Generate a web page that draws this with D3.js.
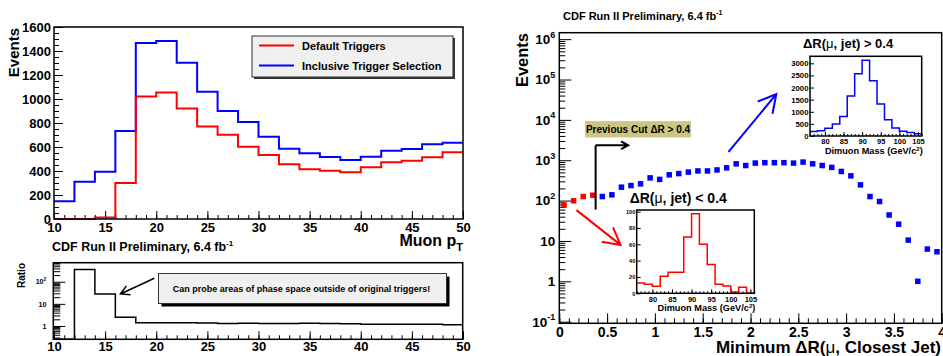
<!DOCTYPE html>
<html>
<head>
<meta charset="utf-8">
<script src="https://cdn.jsdelivr.net/npm/d3@7"></script>
<style>
  body { margin: 0; background: #fff; }
  svg text { font-family: "Liberation Sans", Arial, Helvetica, sans-serif; font-weight: bold; fill: #000; }
</style>
</head>
<body>
<svg id="chart" width="943" height="356"></svg>
<script>
"use strict";

// -------------------- data: muon pT (left) --------------------
const ptEdges = [10, 12, 14, 16, 18, 20, 22, 24, 26, 28, 30, 32, 34, 36, 38, 40, 42, 44, 46, 48, 50];
const defaultTrig = [0, 1, 12, 300, 1020, 1055, 920, 770, 703, 603, 533, 456, 414, 403, 389, 431, 472, 486, 514, 556];
const inclusiveTrig = [148, 311, 394, 733, 1467, 1483, 1303, 1061, 900, 808, 686, 586, 547, 517, 492, 519, 569, 583, 622, 636];
const ratioVals = [0, 360, 27.7, 2.47, 1.41, 1.40, 1.41, 1.38, 1.29, 1.33, 1.29, 1.28, 1.32, 1.28, 1.26, 1.20, 1.20, 1.20, 1.21, 1.14];
const ptTicks = [10, 15, 20, 25, 30, 35, 40, 45, 50];
const eventTicks = [0, 200, 400, 600, 800, 1000, 1200, 1400, 1600];
const ratioTicks = [1, 10, 100];

// -------------------- data: min dR (right) --------------------
const drRed = [0.05, 0.15, 0.25, 0.35];
const evRed = [78, 99, 126, 136];
const drBlue = [0.45, 0.55, 0.65, 0.75, 0.85, 0.95, 1.05, 1.15, 1.25, 1.35, 1.45, 1.55, 1.65, 1.75, 1.85, 1.95,
                2.05, 2.15, 2.25, 2.35, 2.45, 2.55, 2.65, 2.75, 2.85, 2.95, 3.05, 3.15, 3.25, 3.35, 3.45, 3.55,
                3.65, 3.75, 3.85, 3.95];
const evBlue = [126, 139, 215, 236, 260, 365, 335, 435, 467, 508, 543, 543, 575, 648, 815, 740,
                850, 870, 870, 870, 850, 900, 815, 740, 665, 527, 411, 245, 126, 95, 44, 26,
                10.5, 1.0, 6.3, 5.4];
const drTicks = [0, 0.5, 1, 1.5, 2, 2.5, 3, 3.5, 4];
const drTickLabels = ["0", "0.5", "1", "1.5", "2", "2.5", "3", "3.5", "4"];

// -------------------- data: dimuon mass insets --------------------
const massEdges = [76, 78, 80, 82, 84, 86, 88, 90, 92, 94, 96, 98, 100, 102, 104, 106];
const massFar = [190, 220, 320, 495, 810, 1650, 2570, 3130, 2280, 1320, 670, 330, 200, 140, 95];
const massNear = [12.7, 11.1, 8.6, 20.9, 25.9, 25.9, 69, 97.3, 60, 35.3, 11.1, 9, 1.6, 7.4, 0];
const massTicks = [80, 85, 90, 95, 100, 105];
const massFarTicks = [0, 500, 1000, 1500, 2000, 2500, 3000];
const massNearTicks = [0, 20, 40, 60, 80, 100];

const svg = d3.select("#chart");
const fmtInt = d3.format("d");

function styleAxis(g, fs) {
    g.select(".domain").remove();
    g.attr("font-family", null).attr("font-size", fs);
    g.selectAll("line").attr("stroke", "#000").attr("stroke-width", 1);
    return g;
}

// step outline through d3.line, zero bins go to the floor of the scale
function stepPath(edges, vals, x, y) {
    const floor = y.range()[0];
    const pts = vals.map((v, i) => [edges[i], v]);
    pts.push([edges[edges.length - 1], vals[vals.length - 1]]);
    return d3.line()
        .x(d => x(d[0]))
        .y(d => d[1] > 0 || !y.base ? y(d[1]) : floor)
        .curve(d3.curveStepAfter)(pts);
}

function frame(x, y) {
    svg.append("rect")
        .attr("x", x.range()[0]).attr("y", y.range()[1])
        .attr("width", x.range()[1] - x.range()[0])
        .attr("height", y.range()[0] - y.range()[1])
        .attr("fill", "none").attr("stroke", "#000").attr("stroke-width", 1.5);
}

function arrow(x1, y1, x2, y2, len, color, width) {
    const a = Math.atan2(y1 - y2, x1 - x2), s = 0.5;
    const p = d3.path();
    p.moveTo(x1, y1); p.lineTo(x2, y2);
    p.moveTo(x2 + len * Math.cos(a + s), y2 + len * Math.sin(a + s));
    p.lineTo(x2, y2);
    p.lineTo(x2 + len * Math.cos(a - s), y2 + len * Math.sin(a - s));
    svg.append("path").attr("d", p.toString()).attr("fill", "none")
        .attr("stroke", color).attr("stroke-width", width);
}

function powLabel(sel, v, supSize) {
    const e = Math.round(Math.log10(v));
    if (e === 0) { sel.text("1"); return; }
    if (e === 1) { sel.text("10"); return; }
    sel.append("tspan").text("10");
    sel.append("tspan").attr("dy", -supSize * 0.7).attr("font-size", supSize).text(e);
}

/* ------------------ left top: muon pT ------------------ */
const xPt = d3.scaleLinear().domain([10, 50]).range([54, 463]);
const yEv = d3.scaleLinear().domain([0, 1600]).range([219, 27]);

styleAxis(svg.append("g").attr("transform", "translate(0,219)")
    .call(d3.axisBottom(xPt).tickValues(d3.range(10, 51, 1)).tickSizeInner(-4).tickSizeOuter(0).tickFormat("")), 13);
styleAxis(svg.append("g").attr("transform", "translate(0,219)")
    .call(d3.axisBottom(xPt).tickValues(ptTicks).tickSizeInner(-8).tickSizeOuter(0).tickPadding(4).tickFormat(fmtInt)), 13);
styleAxis(svg.append("g").attr("transform", "translate(54,0)")
    .call(d3.axisLeft(yEv).tickValues(d3.range(0, 1601, 50)).tickSizeInner(-5).tickSizeOuter(0).tickFormat("")), 13);
styleAxis(svg.append("g").attr("transform", "translate(54,0)")
    .call(d3.axisLeft(yEv).tickValues(eventTicks).tickSizeInner(-9).tickSizeOuter(0).tickPadding(3).tickFormat(fmtInt)), 13);

svg.append("path").attr("d", stepPath(ptEdges, inclusiveTrig, xPt, yEv))
    .attr("fill", "none").attr("stroke", "#0000ff").attr("stroke-width", 2);
svg.append("path").attr("d", stepPath(ptEdges, defaultTrig, xPt, yEv))
    .attr("fill", "none").attr("stroke", "#ff0000").attr("stroke-width", 2);
frame(xPt, yEv);

svg.append("text").attr("transform", "translate(19,28) rotate(-90)")
    .attr("text-anchor", "end").attr("font-size", 15).text("Events");
const muT = svg.append("text").attr("x", 463).attr("y", 246).attr("text-anchor", "end").attr("font-size", 16);
muT.append("tspan").text("Muon p");
muT.append("tspan").attr("dy", 5).attr("font-size", 11).text("T");

// legend
const legend = [
    { label: "Default Triggers", color: "#ff0000" },
    { label: "Inclusive Trigger Selection", color: "#0000ff" }
];
svg.append("rect").attr("x", 254).attr("y", 38).attr("width", 201).attr("height", 41).attr("fill", "#333");
svg.append("rect").attr("x", 252).attr("y", 36).attr("width", 201).attr("height", 41)
    .attr("fill", "#f0f0f0").attr("stroke", "#333").attr("stroke-width", 1);
legend.forEach((d, i) => {
    svg.append("line").attr("x1", 259).attr("x2", 294).attr("y1", 45.5 + i * 20).attr("y2", 45.5 + i * 20)
        .attr("stroke", d.color).attr("stroke-width", 2);
    svg.append("text").attr("x", 302).attr("y", 49.5 + i * 20).attr("font-size", 11).text(d.label);
});

const cdfL = svg.append("text").attr("x", 52).attr("y", 251).attr("font-size", 12.5);
cdfL.append("tspan").text("CDF Run II Preliminary, 6.4 fb");
cdfL.append("tspan").attr("dy", -5).attr("font-size", 8).text("-1");

/* ------------------ left bottom: ratio ------------------ */
const yRat = d3.scaleLog().domain([0.25, 725]).range([339.3, 262.7]);

styleAxis(svg.append("g").attr("transform", "translate(0,339.3)")
    .call(d3.axisBottom(xPt).tickValues(d3.range(10, 51, 1)).tickSizeInner(-4).tickSizeOuter(0).tickFormat("")), 13);
styleAxis(svg.append("g").attr("transform", "translate(0,339.3)")
    .call(d3.axisBottom(xPt).tickValues(ptTicks).tickSizeInner(-8).tickSizeOuter(0).tickPadding(2).tickFormat(fmtInt)), 13);
styleAxis(svg.append("g").attr("transform", "translate(53.3,0)")
    .call(d3.axisLeft(yRat).tickValues(yRat.ticks().filter(v => ratioTicks.indexOf(v) < 0))
        .tickSizeInner(-7).tickSizeOuter(0).tickFormat("")), 7);
const ratAx = styleAxis(svg.append("g").attr("transform", "translate(53.3,0)")
    .call(d3.axisLeft(yRat).tickValues(ratioTicks).tickSizeInner(-12).tickSizeOuter(0).tickPadding(7).tickFormat("")), 7);
ratAx.selectAll(".tick text").each(function (d) { powLabel(d3.select(this), d, 5); });

svg.append("path").attr("d", stepPath(ptEdges, ratioVals, xPt, yRat))
    .attr("fill", "none").attr("stroke", "#000").attr("stroke-width", 1.5);
svg.append("rect").attr("x", 53.3).attr("y", 262.7).attr("width", 409.4).attr("height", 76.6)
    .attr("fill", "none").attr("stroke", "#000").attr("stroke-width", 1.5);

svg.append("text").attr("transform", "translate(25,263) rotate(-90)")
    .attr("text-anchor", "end").attr("font-size", 10).text("Ratio");

svg.append("rect").attr("x", 161.5).attr("y", 276.5).attr("width", 288).attr("height", 30).attr("fill", "#000");
svg.append("rect").attr("x", 158.5).attr("y", 273.5).attr("width", 288).attr("height", 30)
    .attr("fill", "#f0f0f0").attr("stroke", "#333").attr("stroke-width", 1);
svg.append("text").attr("x", 301.5).attr("y", 291.5).attr("text-anchor", "middle").attr("font-size", 9)
    .text("Can probe areas of phase space outside of original triggers!");
arrow(154.3, 278.3, xPt(16.5), yRat(28), 10, "#000", 1.5);

/* ------------------ right: min dR ------------------ */
const xDr = d3.scaleLinear().domain([0, 4]).range([559.3, 941.7]);
const yDr = d3.scaleLog().domain([Math.pow(10, -1.04), Math.pow(10, 6.16)]).range([323.3, 32.7]);
const drMajor = yDr.ticks().filter(v => Math.abs(Math.log10(v) - Math.round(Math.log10(v))) < 1e-9);

styleAxis(svg.append("g").attr("transform", "translate(0,323.3)")
    .call(d3.axisBottom(xDr).tickValues(d3.range(0, 41, 1).map(v => v / 10)).tickSizeInner(-5).tickSizeOuter(0).tickFormat("")), 14);
styleAxis(svg.append("g").attr("transform", "translate(0,323.3)")
    .call(d3.axisBottom(xDr).tickValues(drTicks).tickSizeInner(-10).tickSizeOuter(0).tickPadding(4)
        .tickFormat((d, i) => drTickLabels[i])), 14);
styleAxis(svg.append("g").attr("transform", "translate(559.3,0)")
    .call(d3.axisLeft(yDr).tickValues(yDr.ticks().filter(v => drMajor.indexOf(v) < 0))
        .tickSizeInner(-6).tickSizeOuter(0).tickFormat("")), 13.5);
const drAx = styleAxis(svg.append("g").attr("transform", "translate(559.3,0)")
    .call(d3.axisLeft(yDr).tickValues(drMajor).tickSizeInner(-12).tickSizeOuter(0).tickPadding(4).tickFormat("")), 13.5);
drAx.selectAll(".tick text").each(function (d) { powLabel(d3.select(this), d, 9); });

const sq = 5.5;
svg.append("g").selectAll("rect").data(drRed.map((d, i) => [d, evRed[i]])).join("rect")
    .attr("x", d => xDr(d[0]) - sq / 2).attr("y", d => yDr(d[1]) - sq / 2)
    .attr("width", sq).attr("height", sq).attr("fill", "#ff0000");
svg.append("g").selectAll("rect").data(drBlue.map((d, i) => [d, evBlue[i]])).join("rect")
    .attr("x", d => xDr(d[0]) - sq / 2).attr("y", d => yDr(d[1]) - sq / 2)
    .attr("width", sq).attr("height", sq).attr("fill", "#0000ff");
frame(xDr, yDr);

svg.append("text").attr("transform", "translate(528,33) rotate(-90)")
    .attr("text-anchor", "end").attr("font-size", 16.5).text("Events");
const drT = svg.append("text").attr("x", 941).attr("y", 353).attr("text-anchor", "end").attr("font-size", 17);
drT.append("tspan").text("Minimum \u0394R(");
drT.append("tspan").attr("font-weight", "normal").text("\u03bc");
drT.append("tspan").text(", Closest Jet)");

const cdfR = svg.append("text").attr("x", 563).attr("y", 19.5).attr("font-size", 11);
cdfR.append("tspan").text("CDF Run II Preliminary, 6.4 fb");
cdfR.append("tspan").attr("dy", -4.5).attr("font-size", 7).text("-1");

// previous cut marker
svg.append("rect").attr("x", xDr(0.27)).attr("y", yDr(9300)).attr("width", xDr(1.377) - xDr(0.27))
    .attr("height", yDr(3670) - yDr(9300)).attr("fill", "#cdc583");
svg.append("text").attr("x", (xDr(0.27) + xDr(1.377)) / 2).attr("y", yDr(3670) - 4.5)
    .attr("text-anchor", "middle").attr("font-size", 10).text("Previous Cut \u0394R > 0.4");
svg.append("path").attr("d", `M${xDr(0.38)},${yDr(60)}V${yDr(2350)}`)
    .attr("stroke", "#000").attr("stroke-width", 2);
arrow(xDr(0.38), yDr(2350), xDr(0.72), yDr(2350), 8, "#000", 2);

arrow(xDr(1.77), yDr(1620), xDr(2.27), yDr(43500), 20, "#0000ff", 2);
arrow(xDr(0.18), yDr(58), xDr(0.64), yDr(8), 19, "#ff0000", 2);

/* ------------------ insets ------------------ */
function inset(x, y, vals, ticksY, color, fsY, title, titleFs, titleBase, labBase, axBase) {
    styleAxis(svg.append("g").attr("transform", `translate(0,${y.range()[0]})`)
        .call(d3.axisBottom(x).tickValues(d3.range(76, 107, 1)).tickSizeInner(-2).tickSizeOuter(0).tickFormat("")), 7.5);
    styleAxis(svg.append("g").attr("transform", `translate(0,${y.range()[0]})`)
        .call(d3.axisBottom(x).tickValues(massTicks).tickSizeInner(-4).tickSizeOuter(0).tickPadding(labBase).tickFormat(fmtInt)), 7.5);
    styleAxis(svg.append("g").attr("transform", `translate(${x.range()[0]},0)`)
        .call(d3.axisLeft(y).tickValues(ticksY).tickSizeInner(-4).tickSizeOuter(0).tickPadding(1.5).tickFormat(fmtInt)), fsY);
    svg.append("path").attr("d", stepPath(massEdges, vals, x, y))
        .attr("fill", "none").attr("stroke", color).attr("stroke-width", 1.5);
    frame(x, y);
    const t = svg.append("text").attr("x", x.range()[0] - 7).attr("y", titleBase).attr("font-size", titleFs);
    t.append("tspan").text("\u0394R(");
    t.append("tspan").attr("font-weight", "normal").text("\u03bc");
    t.append("tspan").text(title);
    const m = svg.append("text").attr("x", x.range()[1] + 1).attr("y", axBase).attr("text-anchor", "end").attr("font-size", 9.2);
    m.append("tspan").text("Dimuon Mass (GeV/c");
    m.append("tspan").attr("dy", -3.5).attr("font-size", 6).text("2");
    m.append("tspan").attr("dy", 3.5).text(")");
}

const xMassFar = d3.scaleLinear().domain([76, 106]).range([810, 921.7]);
const yMassFar = d3.scaleLinear().domain([0, 3290]).range([136, 56.3]);
inset(xMassFar, yMassFar, massFar, massFarTicks, "#0000ff", 7.8, ", jet) > 0.4", 13, 48, 3, 154);

const xMassNear = d3.scaleLinear().domain([76, 106]).range([636.7, 754.3]);
const yMassNear = d3.scaleLinear().domain([0, 102]).range([293.3, 210]);
inset(xMassNear, yMassNear, massNear, massNearTicks, "#ff0000", 5.5, ", jet) < 0.4", 14, 203, 3, 311);
</script>
</body>
</html>
